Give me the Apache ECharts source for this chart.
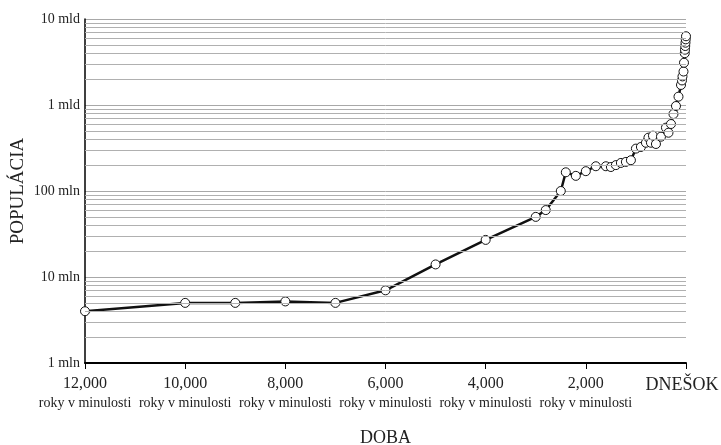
<!DOCTYPE html>
<html>
<head>
<meta charset="utf-8">
<script src="https://cdn.jsdelivr.net/npm/echarts@6/dist/echarts.min.js"></script>
<style>
  html, body { margin: 0; padding: 0; background: #fff; }
  #chart { width: 721px; height: 445px; }
</style>
</head>
<body>
<div id="chart"></div>
<script>
// years before today and world population (millions)
const yearsAgo = [12000, 10000, 9000, 8000, 7000, 6000, 5000, 4000, 3000, 2800,
  2500, 2400, 2200, 2000, 1800, 1600, 1500, 1400, 1300, 1200,
  1100, 1000, 900, 800, 750, 700, 660, 600, 500, 400,
  350, 300, 250, 200, 150, 100, 80, 70, 50, 40,
  25, 20, 15, 10, 5, 0];
const population = [4, 5, 5, 5.2, 5, 7, 14, 27, 50, 60,
  100, 165, 150, 170, 194, 194, 190, 200, 212, 218,
  228, 311, 325, 364, 417, 364, 440, 352, 428, 545,
  476, 601, 786, 973, 1250, 1710, 1930, 2150, 2450, 3100,
  4000, 4400, 4850, 5300, 5800, 6300];

const xTickSub = "roky v minulosti";
const todayLabel = "DNEŠOK";
const decades = [1, 10, 100, 1000];

const serif = "'Liberation Serif', 'DejaVu Serif', serif";

// light grid lines at 2..9 of each decade
const minorLines = [];
decades.forEach(d => {
  for (let k = 2; k <= 9; k++) minorLines.push({ yAxis: k * d });
});

const chart = echarts.init(document.getElementById("chart"));

const option = {
  animation: false,
  grid: {
    left: 85,
    right: 35,
    top: 19,
    bottom: 82,
    containLabel: false,
    outerBoundsMode: "none"
  },
  xAxis: {
    type: "value",
    inverse: true,
    min: 0,
    max: 12000,
    interval: 2000,
    name: "DOBA",
    nameLocation: "middle",
    nameGap: 66,
    nameTextStyle: { fontFamily: serif, fontSize: 18, color: "#222" },
    axisLine: { onZero: false, lineStyle: { color: "#000", width: 2 } },
    axisTick: { show: true, length: 6, lineStyle: { color: "#000", width: 1 } },
    splitLine: { show: false },
    axisLabel: {
      margin: 11,
      showMinLabel: true,
      showMaxLabel: true,
      formatter: v => {
        if (v === 0) return "{t|" + todayLabel + "}";
        return "{n|" + v.toLocaleString("en-US") + "}\n{s|" + xTickSub + "}";
      },
      rich: {
        n: { fontFamily: serif, fontSize: 16, lineHeight: 20, color: "#222" },
        s: { fontFamily: serif, fontSize: 14, lineHeight: 18, color: "#222" },
        t: { fontFamily: serif, fontSize: 18, lineHeight: 22, color: "#222", padding: [0, 8, 0, 0] }
      }
    }
  },
  yAxis: {
    type: "log",
    logBase: 10,
    min: 1,
    max: 10000,
    name: "POPULÁCIA",
    nameLocation: "middle",
    nameGap: 57,
    nameMoveOverlap: false,
    nameTextStyle: { fontFamily: serif, fontSize: 19, color: "#222" },
    axisLine: { show: true, onZero: false, lineStyle: { color: "#000", width: 1.5 } },
    axisTick: { show: false },
    splitLine: { show: true, lineStyle: { color: "#a8a8a8", width: 1 } },
    axisLabel: {
      margin: 5,
      fontFamily: serif,
      fontSize: 14,
      color: "#222",
      showMinLabel: true,
      showMaxLabel: true,
      formatter: v => v >= 1000 ? (v / 1000) + " mld" : v + " mln"
    }
  },
  series: [
    {
      type: "line",
      z: 1,
      silent: true,
      data: [],
      markLine: {
        silent: true,
        symbol: ["none", "none"],
        label: { show: false },
        lineStyle: { color: "#b0b0b0", width: 1, type: "solid" },
        emphasis: { disabled: true },
        data: minorLines
      }
    },
    {
      name: "Populácia",
      type: "line",
      z: 3,
      data: yearsAgo.map((y, i) => [y, population[i]]),
      symbol: "circle",
      symbolSize: 9,
      showAllSymbol: true,
      lineStyle: { color: "#111", width: 2.5 },
      itemStyle: { color: "#fff", borderColor: "#111", borderWidth: 1 }
    }
  ]
};

chart.setOption(option);
window.onresize = chart.resize;
</script>
</body>
</html>
